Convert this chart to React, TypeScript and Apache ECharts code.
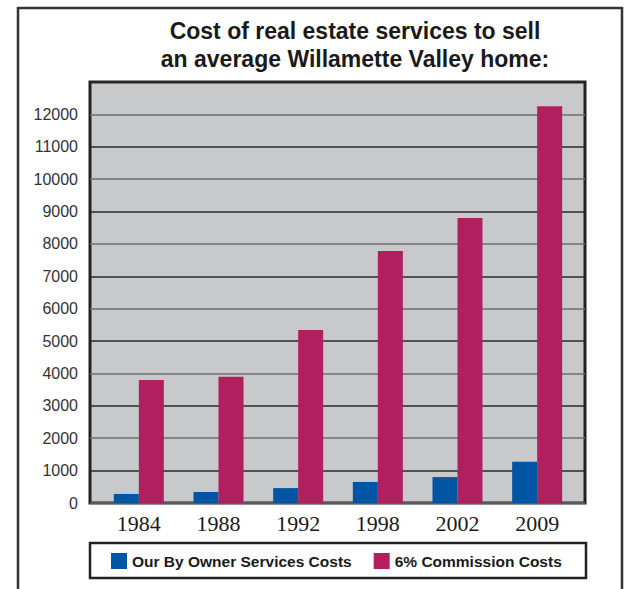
import React, { useEffect, useRef } from "react";
import * as echarts from "echarts";

const years = ["1984", "1988", "1992", "1998", "2002", "2009"];
const ownerCosts = [280, 340, 460, 650, 800, 1270];
const commissionCosts = [3800, 3900, 5340, 7780, 8800, 12250];
const seriesNames = ["Our By Owner Services Costs", "6% Commission Costs"];
const titleLines = ["Cost of real estate services to sell", "an average Willamette Valley home:"];

export default function App() {
  const ref = useRef<HTMLDivElement>(null);
  useEffect(() => {
    document.body.style.margin = "0";
    const chart = echarts.init(ref.current!, undefined, { renderer: "svg" });
    const sans = "Liberation Sans";
    chart.setOption({
      animation: false,
      backgroundColor: "#ffffff",
      title: [
        {
          text: titleLines[0],
          left: 350,
          top: 14,
          textAlign: "center",
          textStyle: { fontFamily: sans, fontSize: 23, fontWeight: "bold", color: "#1a1a1a" },
        },
        {
          text: titleLines[1],
          left: 350,
          top: 42,
          textAlign: "center",
          textStyle: { fontFamily: sans, fontSize: 23, fontWeight: "bold", color: "#1a1a1a" },
        },
      ],
      graphic: [
        {
          type: "rect",
          z: -10,
          shape: { x: 18, y: 8, width: 604, height: 640 },
          style: { fill: "none", stroke: "#333", lineWidth: 2.5 },
        },
        {
          type: "rect",
          z: -5,
          shape: { x: 90, y: 543, width: 496, height: 35 },
          style: { fill: "#fff", stroke: "#222", lineWidth: 2.5 },
        },
      ],
      legend: {
        data: seriesNames,
        icon: "rect",
        itemWidth: 16,
        itemHeight: 16,
        itemGap: 22,
        left: 106,
        top: 548,
        textStyle: { fontFamily: sans, fontSize: 15.5, fontWeight: "bold", color: "#1a1a1a" },
      },
      grid: [
        {
          left: 90,
          top: 82,
          width: 495,
          height: 421,
          show: true,
          backgroundColor: "#c8c9cb",
          borderColor: "#222",
          borderWidth: 3,
        },
        { left: 99, top: 82, width: 478, height: 421 },
      ],
      xAxis: [
        { type: "value", gridIndex: 0, show: false, min: 0, max: 1 },
        {
          type: "category",
          gridIndex: 1,
          data: years,
          axisLine: { show: false },
          axisTick: { show: false },
          axisLabel: { fontFamily: "Liberation Serif", fontSize: 22, color: "#1a1a1a", margin: 9 },
        },
      ],
      yAxis: [
        {
          type: "value",
          gridIndex: 0,
          min: 0,
          max: 13000,
          interval: 1000,
          axisLine: { show: false },
          axisTick: { show: false },
          axisLabel: {
            fontFamily: sans,
            fontSize: 16,
            color: "#333",
            margin: 12,
            formatter: (v: number) => (v >= 13000 ? "" : String(v)),
          },
          splitLine: { show: true, lineStyle: { color: ["#6e6e6e", "#2a2a2a"], width: 1.5 } },
        },
        { type: "value", gridIndex: 1, min: 0, max: 13000, show: false, splitLine: { show: false } },
      ],
      series: [
        {
          name: seriesNames[0],
          type: "bar",
          xAxisIndex: 1,
          yAxisIndex: 1,
          data: ownerCosts,
          barWidth: 25,
          barGap: "0%",
          itemStyle: { color: "#0055a5" },
        },
        {
          name: seriesNames[1],
          type: "bar",
          xAxisIndex: 1,
          yAxisIndex: 1,
          data: commissionCosts,
          barWidth: 25,
          barGap: "0%",
          itemStyle: { color: "#b01f5e" },
        },
      ],
    });
    return () => chart.dispose();
  }, []);
  return <div ref={ref} style={{ width: 625, height: 589 }} />;
}
